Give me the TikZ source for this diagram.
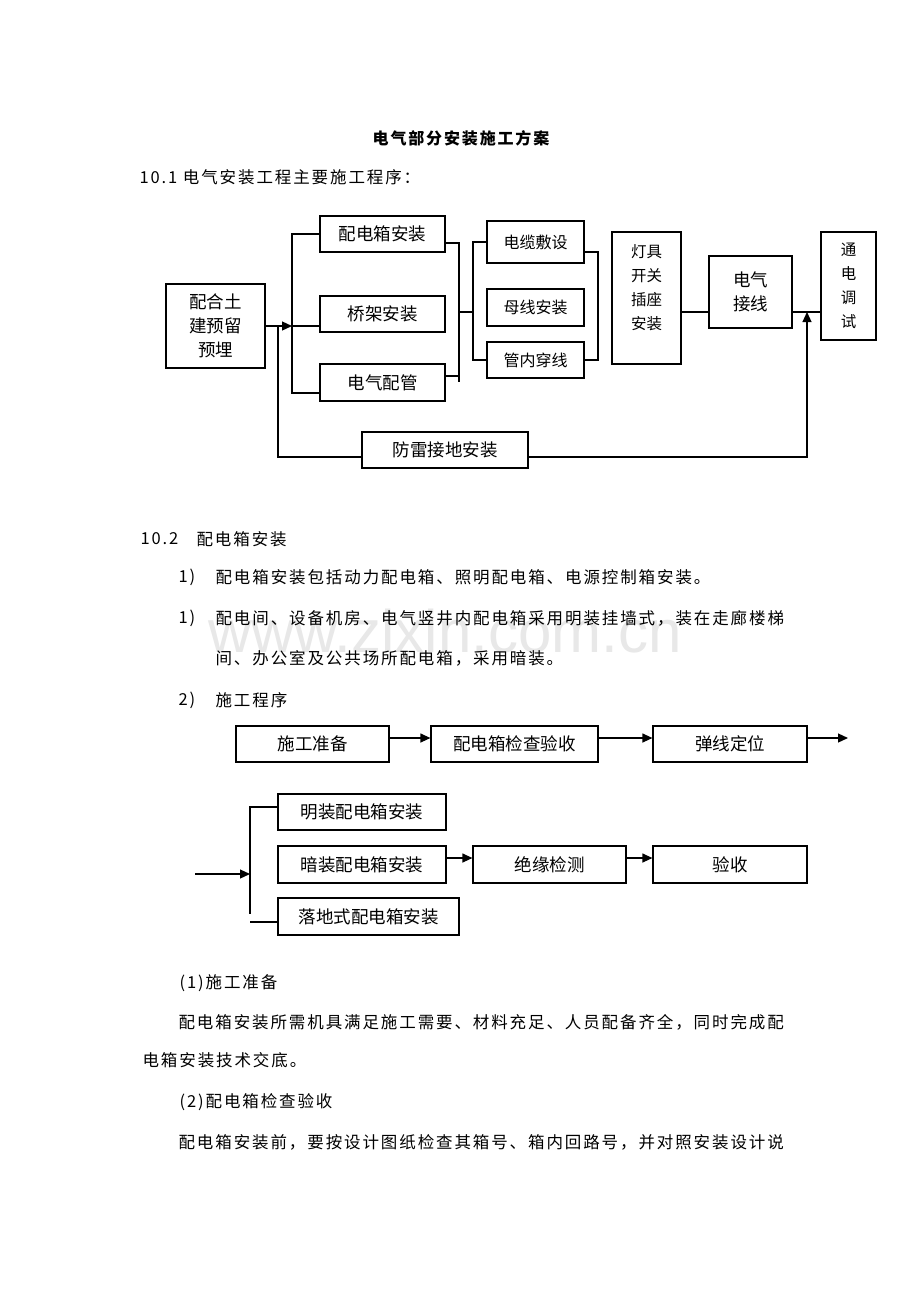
\documentclass[tikz,border=0pt]{standalone}
\usepackage{fontspec}
\setmainfont{Noto Sans CJK SC}
\newfontfamily\spacedcjk[LetterSpace=11.5]{Noto Sans CJK SC}
\newfontfamily\wmfont{Liberation Sans}
\usetikzlibrary{arrows.meta}
\newcommand\bodyfnt{\spacedcjk\fontsize{16.5pt}{18pt}\selectfont}

\begin{document}
\begin{tikzpicture}[x=1pt,y=-1pt,line width=1.2pt,
bx/.style={draw,inner sep=0pt,align=center,font=\fontsize{17.5pt}{24pt}\selectfont},
sm/.style={font=\fontsize{16pt}{24pt}\selectfont},
arr/.style={-{Triangle[length=10pt,width=9pt]}},
txt/.style={anchor=west,inner sep=0pt,font=\bodyfnt}]
\path[use as bounding box,fill=white](0,0)rectangle(920,1302);
\node[font=\wmfont\fontsize{60pt}{60pt}\selectfont,text=black!9](wm)at(445,631){www.zixin.com.cn};
% headings and text
\node[font=\spacedcjk\bfseries\fontsize{16pt}{18pt}\selectfont](title)at(461,138){电气部分安装施工方案};
\node[txt](h1)at(139,177){10.1 电气安装工程主要施工程序：};
\node[txt](h2)at(140,539){10.2};
\node[txt](h2t)at(196,539){配电箱安装};
\node[txt](n1)at(178,577){1)};
\node[txt](t1)at(215,577){配电箱安装包括动力配电箱、照明配电箱、电源控制箱安装。};
\node[txt](n2)at(178,618){1)};
\node[txt](t2)at(215,618){配电间、设备机房、电气竖井内配电箱采用明装挂墙式，装在走廊楼梯};
\node[txt](t2b)at(215,658){间、办公室及公共场所配电箱，采用暗装。};
\node[txt](n3)at(178,700){2)};
\node[txt](t3)at(215,700){施工程序};
\node[txt](p1)at(179,983){(1)施工准备};
\node[txt](p1a)at(178,1022){配电箱安装所需机具满足施工需要、材料充足、人员配备齐全，同时完成配};
\node[txt](p1b)at(142,1060){电箱安装技术交底。};
\node[txt](p2)at(179,1102){(2)配电箱检查验收};
\node[txt](p2a)at(178,1142){配电箱安装前，要按设计图纸检查其箱号、箱内回路号，并对照安装设计说};
% 10.1 flow
\node[bx,minimum width=99pt,minimum height=84pt](base)at(215.5,326){配合土\\建预留\\预埋};
\node[bx,minimum width=125pt,minimum height=36pt](pdx)at(382.5,234){配电箱安装};
\node[bx,minimum width=125pt,minimum height=36pt](qj)at(382.5,314){桥架安装};
\node[bx,minimum width=125pt,minimum height=37pt](pg)at(382.5,382.5){电气配管};
\node[bx,sm,minimum width=97pt,minimum height=42pt](dl)at(535.5,242){电缆敷设};
\node[bx,sm,minimum width=97pt,minimum height=37pt](mx)at(535.5,307.5){母线安装};
\node[bx,sm,minimum width=97pt,minimum height=36pt](gn)at(535.5,360){管内穿线};
\node[bx,minimum width=69pt,minimum height=132pt](dj)at(646.5,298){};
\node[align=center,inner sep=0pt,font=\fontsize{15.5pt}{24pt}\selectfont](djt)at(646.5,288){灯具\\开关\\插座\\安装};
\node[bx,minimum width=83pt,minimum height=72pt](jx)at(750.5,292){电气\\接线};
\node[bx,font=\fontsize{15.5pt}{24pt}\selectfont,minimum width=55pt,minimum height=108pt](td)at(848.5,286){通\\电\\调\\试};
\node[bx,minimum width=166pt,minimum height=36pt](fl)at(445,450){防雷接地安装};
\coordinate(b1)at(292,393);
\coordinate(g)at(278,457);
\draw(pdx.west)-|(b1)--(b1-|pg.west);
\draw[arr](base.east)--(base.east-|b1);
\draw(base.east-|b1)--(base.east-|qj.west);
\draw(base.east-|g)|-(g-|fl.west);
\coordinate(b2t)at(459,243);
\coordinate(b2b)at(459,382);
\coordinate(b2p)at(459,376);
\coordinate(b2m)at(459,312);
\coordinate(b3b)at(473,360);
\coordinate(b4t)at(598,252);
\draw(b2t-|pdx.east)--(b2t)--(b2b);
\draw(b2p-|pg.east)--(b2p);
\draw(b2m)--(b2m-|b3b);
\draw(dl.west)-|(b3b)--(gn.west);
\draw(b4t-|dl.east)--(b4t)|-(gn.east);
\coordinate(m)at(0,312);
\coordinate(up)at(807,312);
\draw(m-|dj.east)--(m-|jx.west);
\draw(m-|jx.east)--(m-|td.west);
\draw[arr](g-|fl.east)-|(up);
% 10.2 flow
\node[bx,minimum width=153pt,minimum height=36pt](sg)at(312.5,744){施工准备};
\node[bx,minimum width=167pt,minimum height=36pt](jc)at(514.5,744){配电箱检查验收};
\node[bx,minimum width=154pt,minimum height=36pt](tx)at(730,744){弹线定位};
\coordinate(r1)at(848,738);
\draw[arr](r1-|sg.east)--(r1-|jc.west);
\draw[arr](r1-|jc.east)--(r1-|tx.west);
\draw[arr](r1-|tx.east)--(r1);
\node[bx,minimum width=168pt,minimum height=36pt](mz)at(362,812){明装配电箱安装};
\node[bx,minimum width=168pt,minimum height=37pt](az)at(362,864.5){暗装配电箱安装};
\node[bx,minimum width=181pt,minimum height=37pt](ld)at(368.5,916.5){落地式配电箱安装};
\node[bx,minimum width=153pt,minimum height=37pt](jy)at(549.5,864.5){绝缘检测};
\node[bx,minimum width=154pt,minimum height=37pt](ys)at(730,864.5){验收};
\coordinate(r2)at(0,858);
\draw[arr](r2-|az.east)--(r2-|jy.west);
\draw[arr](r2-|jy.east)--(r2-|ys.west);
\coordinate(b5t)at(250,807);
\coordinate(b5b)at(250,914);
\coordinate(b5l)at(250,922);
\coordinate(in)at(195,874);
\draw(b5t-|mz.west)--(b5t)--(b5b);
\draw(b5l)--(b5l-|ld.west);
\draw[arr](in)--(in-|b5t);
\end{tikzpicture}
\end{document}
